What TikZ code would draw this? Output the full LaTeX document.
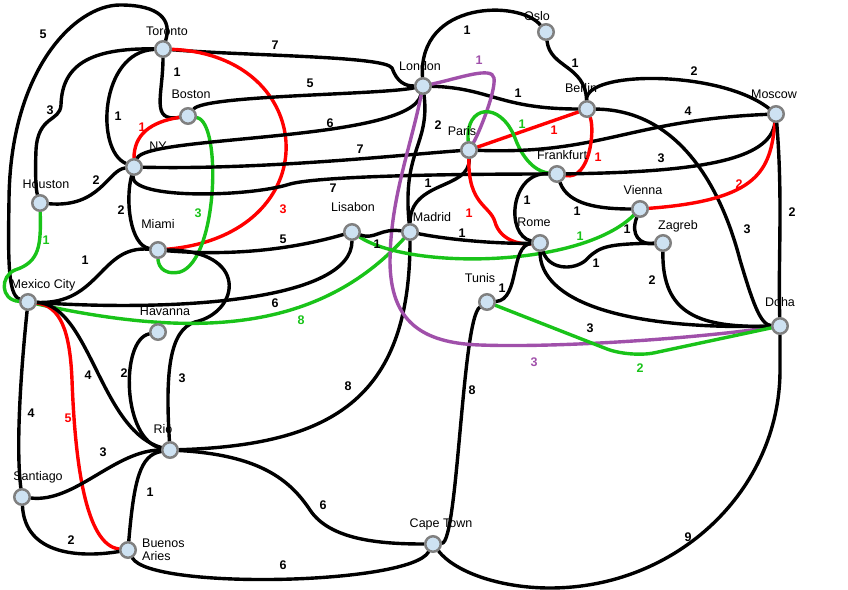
\documentclass[tikz,border=0pt]{standalone}
\usepackage{fontspec}
\setmainfont{Liberation Sans}
\usetikzlibrary{backgrounds}

\definecolor{cityFill}{RGB}{206,226,242}
\definecolor{cityRim}{RGB}{128,128,128}
\definecolor{routeRed}{RGB}{255,0,0}
\definecolor{routeGreen}{RGB}{25,195,25}
\definecolor{routePurple}{RGB}{160,80,170}

\begin{document}
\begin{tikzpicture}[x=1pt,y=-1pt,label distance=6pt,
  city/.style={circle,fill=cityFill,draw=cityRim,line width=2.5pt,minimum size=15.5pt,inner sep=0pt},
  cityName/.style={font=\fontsize{12.5}{13.5}\selectfont,inner sep=1pt},
  road/.style={line width=3.4pt,line cap=round},
  weight/.style={font=\fontsize{12.5}{14}\selectfont\bfseries,inner sep=1pt}]
  \useasboundingbox (0,0) rectangle (848,589);

  % Cities: Americas
  \node[city,label={[cityName,xshift=4pt,yshift=-3pt]above:Toronto}] (tor) at (163,49) {};
  \node[city,label={[cityName,xshift=3pt,yshift=1pt]above:Boston}] (bos) at (188,116) {};
  \node[city,label={[cityName,xshift=24pt]above:NY}] (ny) at (134,167) {};
  \node[city,label={[cityName,xshift=6pt,yshift=-2pt]above:Houston}] (hou) at (40,203) {};
  \node[city,label={[cityName,yshift=5pt]above:Miami}] (mia) at (158,250) {};
  \node[city,label={[cityName,xshift=15pt,yshift=-5.5pt]above:Mexico City}] (mex) at (28,302) {};
  \node[city,label={[cityName,xshift=7pt]above:Havanna}] (hav) at (158,332) {};
  \node[city,label={[cityName,xshift=-7pt]above:Rio}] (rio) at (170,450) {};
  \node[city,label={[cityName,xshift=16pt,yshift=-2.5pt]above:Santiago}] (san) at (22,497) {};
  \node[city,label={[cityName,align=left,label distance=4pt]right:Buenos\\Aries}] (bue) at (128,550) {};

  % Cities: Europe, Africa, Asia
  \node[city,label={[cityName,xshift=-3pt,yshift=-1pt]above:London}] (lon) at (423,86) {};
  \node[city,label={[cityName,xshift=-9pt,yshift=-5pt]above:Oslo}] (osl) at (546,32) {};
  \node[city,label={[cityName,xshift=-6pt]above:Berlin}] (ber) at (587,109) {};
  \node[city,label={[cityName,xshift=-7pt,yshift=-2pt]above:Paris}] (par) at (469,150) {};
  \node[city,label={[cityName,xshift=5pt,yshift=-2pt]above:Frankfurt}] (fra) at (557,174) {};
  \node[city,label={[cityName,xshift=-2pt,yshift=-1pt]above:Moscow}] (mos) at (776,114) {};
  \node[city,label={[cityName,xshift=3pt,yshift=-2pt]above:Vienna}] (vie) at (640,209) {};
  \node[city,label={[cityName,xshift=15pt,yshift=-5.5pt]above:Zagreb}] (zag) at (663,243) {};
  \node[city,label={[cityName,yshift=3pt]above:Doha}] (doh) at (780,326) {};
  \node[city,label={[cityName,xshift=1pt,yshift=4pt]above:Lisabon}] (lis) at (352,232) {};
  \node[city,label={[cityName,xshift=22pt,yshift=-6pt]above:Madrid}] (mad) at (410,232) {};
  \node[city,label={[cityName,xshift=-6pt]above:Rome}] (rom) at (540,243) {};
  \node[city,label={[cityName,xshift=-7pt,yshift=3pt]above:Tunis}] (tun) at (487,302) {};
  \node[city,label={[cityName,xshift=8pt,yshift=-2.5pt]above:Cape Town}] (cpt) at (433,544) {};

  \begin{scope}[on background layer]
  % Routes: Americas
  \draw[road] (tor) .. controls (172,20) and (160,5) .. (120,5) .. controls (75,5) and (10,70) .. (9,200) .. controls (8,260) and (8,295) .. (mex) node[weight] at (43,34) {5};
  \draw[road] (tor) .. controls (90,48) and (62,65) .. (61,105) .. controls (60,122) and (38,115) .. (36,150) .. controls (35,175) and (36,190) .. (hou) node[weight] at (50,110) {3};
  \draw[road] (tor) .. controls (100,52) and (95,150) .. (ny) node[weight] at (118,116) {1};
  \draw[road] (tor) .. controls (163,95) and (150,122) .. (bos) node[weight] at (177,72) {1};
  \draw[road] (tor) .. controls (250,56) and (385,56) .. (392,68) .. controls (397,82) and (405,86) .. (lon) node[weight] at (275,45) {7};
  \draw[road,routeRed] (tor) .. controls (320,55) and (330,235) .. (mia) node[weight] at (283,209) {3};
  \draw[road] (bos) .. controls (205,95) and (380,95) .. (lon) node[weight] at (310,83) {5};
  \draw[road,routeRed] (bos) .. controls (150,122) and (134,135) .. (ny) node[weight] at (142,127) {1};
  \draw[road,routeGreen] (bos) .. controls (222,122) and (218,260) .. (180,272) .. controls (160,276) and (158,262) .. (mia) node[weight] at (198,213) {3};
  \draw[road] (ny) .. controls (145,135) and (410,142) .. (lon) node[weight] at (330,123) {6};
  \draw[road] (ny) .. controls (260,170) and (400,155) .. (par) node[weight] at (360,149) {7};
  \draw[road] (ny) .. controls (130,200) and (250,197) .. (290,184) .. controls (320,176) and (450,174) .. (fra) node[weight] at (333,188) {7};
  \draw[road] (ny) .. controls (108,170) and (100,208) .. (hou) node[weight] at (96,180) {2};
  \draw[road] (ny) .. controls (125,200) and (130,245) .. (mia) node[weight] at (121,210) {2};
  \draw[road,routeGreen] (hou) .. controls (41,245) and (40,262) .. (15,270) .. controls (0,276) and (0,300) .. (mex) node[weight] at (46,240) {1};
  \draw[road] (mia) .. controls (100,245) and (100,305) .. (mex) node[weight] at (85,260) {1};
  \draw[road] (mia) .. controls (230,256) and (290,250) .. (lis) node[weight] at (283,239) {5};
  \draw[road] (mia) .. controls (250,250) and (240,312) .. (195,322) .. controls (170,330) and (165,370) .. (rio) node[weight] at (182,378) {3};
  \draw[road] (mex) .. controls (180,312) and (352,300) .. (lis) node[weight] at (275,303) {6};
  \draw[road,routeGreen] (mex) .. controls (200,340) and (320,330) .. (mad) node[weight] at (301,320) {8};
  \draw[road] (mex) .. controls (20,380) and (16,450) .. (san) node[weight] at (31,413) {4};
  \draw[road,routeRed] (mex) .. controls (60,306) and (70,330) .. (72,380) .. controls (75,460) and (85,545) .. (bue) node[weight] at (68,418) {5};
  \draw[road] (mex) .. controls (90,305) and (100,430) .. (rio) node[weight] at (88,375) {4};
  \draw[road] (hav) .. controls (120,340) and (122,440) .. (rio) node[weight] at (124,373) {2};
  \draw[road] (rio) .. controls (115,450) and (75,503) .. (san) node[weight] at (103,452) {3};
  \draw[road] (rio) .. controls (140,455) and (134,480) .. (bue) node[weight] at (150,492) {1};
  \draw[road] (san) .. controls (25,555) and (80,558) .. (bue) node[weight] at (71,540) {2};
  \draw[road] (rio) .. controls (330,445) and (410,400) .. (mad) node[weight] at (348,386) {8};
  \draw[road] (rio) .. controls (260,455) and (290,480) .. (310,510) .. controls (330,540) and (380,544) .. (cpt) node[weight] at (323,505) {6};
  \draw[road] (bue) .. controls (150,590) and (410,585) .. (cpt) node[weight] at (283,565) {6};
  \draw[road] (cpt) .. controls (458,542) and (462,320) .. (tun) node[weight] at (472,390) {8};
  \draw[road] (cpt) .. controls (455,572) and (500,588) .. (550,588) .. controls (677,588) and (780,490) .. (780,370) -- (doh) node[weight] at (688,537) {9};

  % Routes: Europe
  \draw[road] (lon) .. controls (418,0) and (520,0) .. (osl) node[weight] at (467,30) {1};
  \draw[road] (osl) .. controls (550,68) and (585,65) .. (ber) node[weight] at (575,63) {1};
  \draw[road] (lon) .. controls (490,88) and (500,109) .. (ber) node[weight] at (518,93) {1};
  \draw[road] (lon) .. controls (430,145) and (402,150) .. (mad) node[weight] at (438,125) {2};
  \draw[road,routePurple] (lon) .. controls (460,78) and (492,66) .. (494,78) .. controls (496,92) and (478,135) .. (par) node[weight] at (479,60) {1};
  \draw[road,routePurple] (lon) .. controls (410,150) and (390,200) .. (390,263) .. controls (391,320) and (420,343) .. (480,345) .. controls (560,348) and (700,338) .. (doh) node[weight] at (534,362) {3};
  \draw[road,routeRed] (par) -- (ber) node[weight] at (554,130) {1};
  \draw[road,routeGreen] (par) .. controls (465,105) and (500,100) .. (515,138) .. controls (525,165) and (540,172) .. (fra) node[weight] at (522,124) {1};
  \draw[road] (par) .. controls (600,155) and (630,120) .. (mos) node[weight] at (688,111) {4};
  \draw[road] (par) .. controls (470,190) and (410,180) .. (mad) node[weight] at (428,183) {1};
  \draw[road,routeRed] (par) .. controls (468,205) and (490,205) .. (495,222) .. controls (500,240) and (520,245) .. (rom) node[weight] at (469,213) {1};
  \draw[road,routeRed] (fra) .. controls (590,180) and (595,130) .. (ber) node[weight] at (598,157) {1};
  \draw[road] (fra) .. controls (700,172) and (770,160) .. (mos) node[weight] at (661,158) {3};
  \draw[road] (fra) .. controls (510,172) and (505,235) .. (rom) node[weight] at (527,200) {1};
  \draw[road] (fra) .. controls (568,205) and (600,209) .. (vie) node[weight] at (577,211) {1};
  \draw[road] (ber) .. controls (585,70) and (720,70) .. (mos) node[weight] at (694,71) {2};
  \draw[road] (ber) .. controls (680,110) and (722,190) .. (740,260) .. controls (752,300) and (760,325) .. (doh) node[weight] at (747,229) {3};
  \draw[road,routeRed] (mos) .. controls (770,170) and (760,200) .. (vie) node[weight] at (739,184) {2};
  \draw[road] (mos) .. controls (783,200) and (778,260) .. (doh) node[weight] at (792,212) {2};
  \draw[road] (vie) .. controls (630,235) and (640,245) .. (zag) node[weight] at (627,229) {1};
  \draw[road,routeGreen] (lis) .. controls (410,270) and (580,268) .. (vie) node[weight] at (580,236) {1};
  \draw[road] (zag) .. controls (610,244) and (600,246) .. (588,258) .. controls (578,270) and (550,272) .. (rom) node[weight] at (596,263) {1};
  \draw[road] (zag) .. controls (662,315) and (700,328) .. (doh) node[weight] at (652,280) {2};
  \draw[road] (rom) .. controls (540,300) and (620,330) .. (doh) node[weight] at (590,328) {3};
  \draw[road,routeGreen,rounded corners=25pt] (tun) -- (630,358) -- (doh) node[weight] at (640,368) {2};
  \draw[road] (rom) .. controls (510,245) and (520,300) .. (tun) node[weight] at (502,288) {1};
  \draw[road] (lis) .. controls (375,240) and (380,228) .. (mad) node[weight] at (377,244) {1};
  \draw[road] (mad) .. controls (450,240) and (500,244) .. (rom) node[weight] at (462,233) {1};
  \end{scope}
\end{tikzpicture}
\end{document}
